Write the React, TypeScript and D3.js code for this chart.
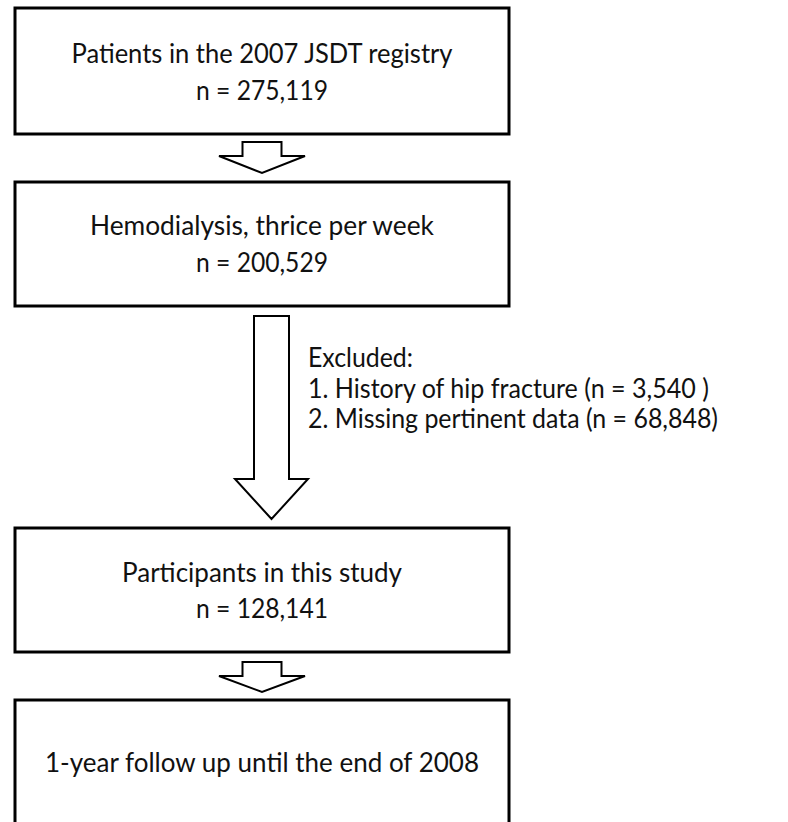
import React from 'react';
import * as d3 from 'd3';

// flow steps, top to bottom
const stepLabels = [
  'Patients in the 2007 JSDT registry',
  'Hemodialysis, thrice per week',
  'Participants in this study',
  '1-year follow up until the end of 2008',
];
const stepCounts: (number | null)[] = [275119, 200529, 128141, null];

const exclusionTitle = 'Excluded:';
const exclusionReasons = ['History of hip fracture', 'Missing pertinent data'];
const exclusionCounts = [3540, 68848];

const fmt = d3.format(',');

// layout (pixels)
const boxLeft = 15, boxRight = 509;
const boxTops = [8, 182, 528, 700];
const boxBottoms = [134, 306, 652, 840];
const labelOffset = [55, 53, 54, 72];
const countOffset = [92, 90, 90, 0];
// measured widths of each rendered line in the reference (Calibri-like)
const labelWidths = [381, 344, 280, 434];
const countWidth = 132;
const exclWidths = [105, 401, 410];

const fontFamily = 'Lato, "Open Sans", sans-serif';
const fontSize = 27;

// block arrow: shaft half-width, head half-width, shaft top, head start, tip
const blockArrow = (cx: number, sw: number, hw: number, top: number, neck: number, tip: number) => {
  const pts: [number, number][] = [
    [cx - sw, top],
    [cx + sw, top],
    [cx + sw, neck],
    [cx + hw, neck],
    [cx, tip],
    [cx - hw, neck],
    [cx - sw, neck],
  ];
  return d3.line()(pts) + 'Z';
};

const App = () => {
  const width = 788, height = 822;
  const cx = (boxLeft + boxRight) / 2;

  const arrows = [
    blockArrow(cx, 19.5, 43, boxBottoms[0] + 8, boxBottoms[0] + 22, boxBottoms[0] + 39),
    blockArrow(271.5, 17.5, 36.5, boxBottoms[1] + 10, 479, 519),
    blockArrow(cx, 19.5, 43, boxBottoms[2] + 10, boxBottoms[2] + 24, boxBottoms[2] + 40),
  ];

  const exclLines = [
    exclusionTitle,
    ...exclusionReasons.map((r, i) =>
      `${i + 1}. ${r} (n = ${fmt(exclusionCounts[i])}${i === 0 ? ' )' : ')'}`
    ),
  ];

  return (
    <svg
      width={width}
      height={height}
      viewBox={`0 0 ${width} ${height}`}
      style={{ position: 'absolute', left: 0, top: 0, background: '#fff', display: 'block' }}
    >
      <rect x={0} y={0} width={width} height={height} fill="#fff" />

      {stepLabels.map((label, i) => (
        <g key={label}>
          <rect
            x={boxLeft}
            y={boxTops[i]}
            width={boxRight - boxLeft}
            height={boxBottoms[i] - boxTops[i]}
            fill="#fff"
            stroke="#000"
            strokeWidth={3}
          />
          <text
            x={cx}
            y={boxTops[i] + labelOffset[i]}
            textAnchor="middle"
            fontFamily={fontFamily}
            fontSize={fontSize}
            fill="#111"
            textLength={labelWidths[i]}
            lengthAdjust="spacingAndGlyphs"
          >
            {label}
          </text>
          {stepCounts[i] !== null && (
            <text
              x={cx}
              y={boxTops[i] + countOffset[i]}
              textAnchor="middle"
              fontFamily={fontFamily}
              fontSize={fontSize}
              fill="#111"
              textLength={countWidth}
              lengthAdjust="spacingAndGlyphs"
            >
              {`n = ${fmt(stepCounts[i] as number)}`}
            </text>
          )}
        </g>
      ))}

      {arrows.map((d, i) => (
        <path key={i} d={d} fill="#fff" stroke="#000" strokeWidth={2} strokeLinejoin="miter" />
      ))}

      {exclLines.map((line, i) => (
        <text
          key={i}
          x={308}
          y={367 + i * 30.5}
          fontFamily={fontFamily}
          fontSize={fontSize}
          fill="#111"
          textLength={exclWidths[i]}
          lengthAdjust="spacingAndGlyphs"
        >
          {line}
        </text>
      ))}
    </svg>
  );
};

export default App;
